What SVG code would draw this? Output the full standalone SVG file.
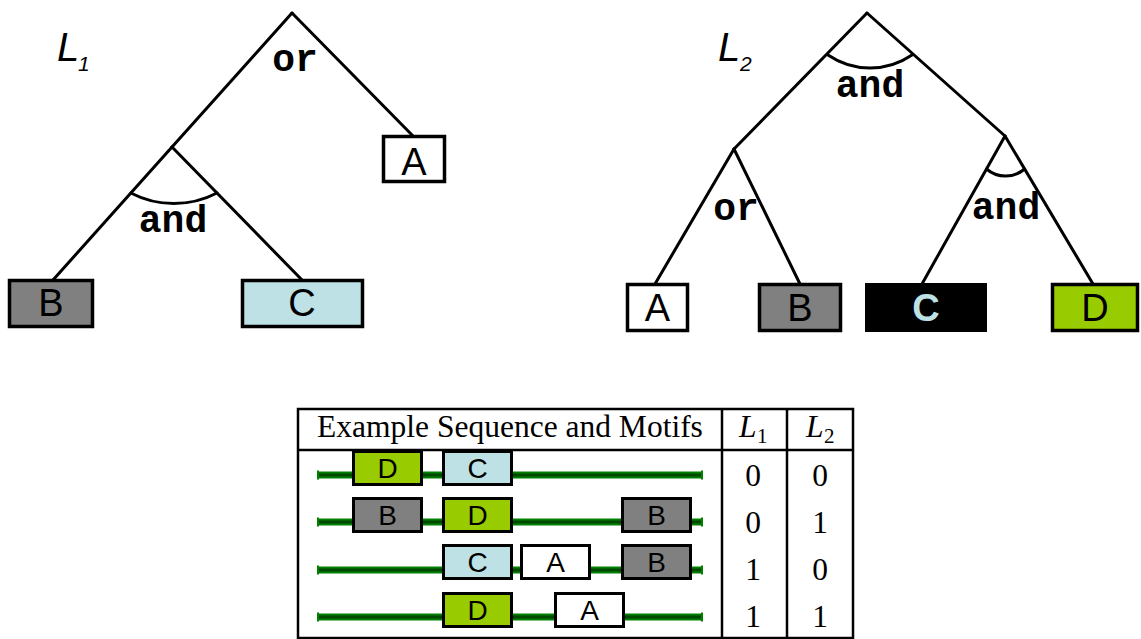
<svg xmlns="http://www.w3.org/2000/svg" width="1141" height="639" viewBox="0 0 1141 639">
<style>
.ln{stroke:#000;stroke-width:3;fill:none;stroke-linecap:round}
.box{stroke:#000;stroke-width:3.5}
.bl{font-family:"Liberation Sans",Arial,sans-serif;font-size:38px;text-anchor:middle;fill:#000}
.op{font-family:"Liberation Mono","Courier New","Liberation Sans",sans-serif;font-weight:bold;font-size:38px;text-anchor:middle;fill:#000}
.lab{font-family:"Liberation Sans",Arial,sans-serif;font-style:italic;font-size:40px;fill:#000}
.sub{font-family:"Liberation Sans",Arial,sans-serif;font-style:italic;font-size:21px;fill:#000}
.tt{font-family:"Liberation Serif","Times New Roman",serif;font-size:31.5px;fill:#000}
.tsub{font-family:"Liberation Serif","Times New Roman",serif;font-size:21px;fill:#000}
.sb{stroke:#000;stroke-width:3}
.sl{font-family:"Liberation Sans",Arial,sans-serif;font-size:28px;text-anchor:middle;fill:#000}
.tl{stroke:#000;stroke-width:2.5}
.gA{fill:#fff}.gB{fill:#808080}.gC{fill:#bde1e4}.gD{fill:#99cc00}
</style>
<defs>
<g id="seq">
<rect x="318" y="-3.5" width="384" height="7" fill="#008000"/>
<rect x="318" y="-1.5" width="384" height="3" fill="#004a00"/>
<rect x="317" y="-4.5" width="2" height="9" fill="#008000"/>
<rect x="701" y="-4.5" width="2" height="9" fill="#008000"/>
</g>
</defs>

<!-- Tree L1 -->
<text class="lab" x="57" y="61">L</text><text class="sub" x="78" y="71">1</text>
<g id="connectors-L1">
<line class="ln" x1="292" y1="13" x2="172" y2="147"/>
<line class="ln" x1="292" y1="13" x2="413" y2="136"/>
<line class="ln" x1="172" y1="147" x2="53" y2="280"/>
<line class="ln" x1="172" y1="147" x2="302" y2="280"/>
</g>
<g id="L1-or"><text class="op" x="295" y="71">or</text></g>
<g id="L1-and"><path class="ln" d="M130.8,193 A93.5,93.5 0 0 0 217,193"/><text class="op" x="173" y="232">and</text></g>
<g id="L1-A"><rect class="box gA" x="383.5" y="136.5" width="61" height="45"/><text class="bl" x="414" y="175">A</text></g>
<g id="L1-B"><rect class="box gB" x="9.5" y="280.5" width="83" height="46"/><text class="bl" x="51" y="316">B</text></g>
<g id="L1-C"><rect class="box gC" x="242.5" y="280.5" width="120" height="46"/><text class="bl" x="302" y="316">C</text></g>

<!-- Tree L2 -->
<text class="lab" x="718" y="61">L</text><text class="sub" x="740" y="71">2</text>
<g id="connectors-L2">
<line class="ln" x1="867" y1="13" x2="734" y2="149"/>
<line class="ln" x1="867" y1="13" x2="1005" y2="136"/>
<line class="ln" x1="734" y1="149" x2="655" y2="284"/>
<line class="ln" x1="734" y1="149" x2="800" y2="284"/>
<line class="ln" x1="1005" y1="136" x2="922" y2="284"/>
<line class="ln" x1="1005" y1="136" x2="1093" y2="284"/>
</g>
<g id="L2-and-root"><path class="ln" d="M828,55 A74.3,74.3 0 0 0 912,55"/><text class="op" x="870" y="97">and</text></g>
<g id="L2-or"><text class="op" x="736" y="220">or</text></g>
<g id="L2-and"><path class="ln" d="M986.5,169 A29.3,29.3 0 0 0 1024.6,169"/><text class="op" x="1006" y="219">and</text></g>
<g id="L2-A"><rect class="box gA" x="627.5" y="284.5" width="60" height="46"/><text class="bl" x="657.5" y="321">A</text></g>
<g id="L2-B"><rect class="box gB" x="759.5" y="284.5" width="81" height="46"/><text class="bl" x="800" y="321">B</text></g>
<g id="L2-C"><rect x="865" y="283" width="122" height="49" fill="#000"/><text class="bl" x="926" y="321" font-weight="bold" style="fill:#bde1e4">C</text></g>
<g id="L2-D"><rect class="box gD" x="1052.5" y="284.5" width="85" height="46"/><text class="bl" x="1095" y="321">D</text></g>

<!-- Table -->
<g id="table">
<rect x="298" y="409" width="555" height="229" fill="#fff" stroke="#000" stroke-width="2.5"/>
<line class="tl" x1="298" y1="450" x2="853" y2="450"/>
<line class="tl" x1="722" y1="409" x2="722" y2="638"/>
<line class="tl" x1="787" y1="409" x2="787" y2="638"/>
<text class="tt" x="510" y="437" text-anchor="middle">Example Sequence and Motifs</text>
<text class="tt" x="739" y="437" font-style="italic">L</text><text class="tsub" x="757" y="443">1</text>
<text class="tt" x="806" y="437" font-style="italic">L</text><text class="tsub" x="824" y="443">2</text>
<g class="tt" text-anchor="middle">
<text x="753" y="486">0</text><text x="820" y="486">0</text>
<text x="753" y="533">0</text><text x="820" y="533">1</text>
<text x="753" y="580">1</text><text x="820" y="580">0</text>
<text x="753" y="627">1</text><text x="820" y="627">1</text>
</g>
</g>
<g id="row1">
<use href="#seq" y="475"/>
<rect class="sb gD" x="353.5" y="451.5" width="68" height="33"/><text class="sl" x="387.5" y="478">D</text>
<rect class="sb gC" x="443.5" y="451.5" width="68" height="33"/><text class="sl" x="477.5" y="478">C</text>
</g>
<g id="row2">
<use href="#seq" y="522"/>
<rect class="sb gB" x="353.5" y="498.5" width="68" height="33"/><text class="sl" x="387.5" y="525">B</text>
<rect class="sb gD" x="443.5" y="498.5" width="68" height="33"/><text class="sl" x="477.5" y="525">D</text>
<rect class="sb gB" x="622.5" y="498.5" width="68" height="33"/><text class="sl" x="656.5" y="525">B</text>
</g>
<g id="row3">
<use href="#seq" y="570"/>
<rect class="sb gC" x="443.5" y="545.5" width="68" height="33"/><text class="sl" x="477.5" y="572">C</text>
<rect class="sb gA" x="521.5" y="545.5" width="68" height="33"/><text class="sl" x="555.5" y="572">A</text>
<rect class="sb gB" x="622.5" y="545.5" width="68" height="33"/><text class="sl" x="656.5" y="572">B</text>
</g>
<g id="row4">
<use href="#seq" y="617"/>
<rect class="sb gD" x="443.5" y="593.5" width="68" height="33"/><text class="sl" x="477.5" y="620">D</text>
<rect class="sb gA" x="555.5" y="593.5" width="68" height="33"/><text class="sl" x="589.5" y="620">A</text>
</g>
</svg>
